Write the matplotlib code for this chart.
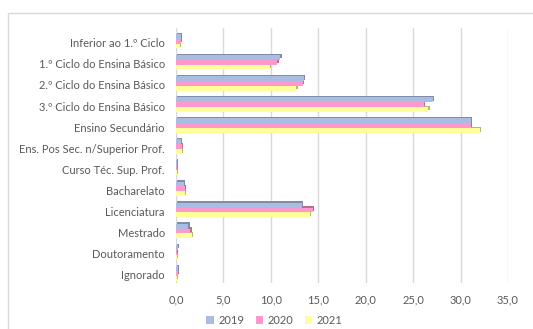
import numpy as np
import matplotlib
matplotlib.use("Agg")
import matplotlib.pyplot as plt
from matplotlib.patches import Rectangle
from matplotlib import transforms

plt.rcParams["font.family"] = ["Lato", "DejaVu Sans"]

# Habilitações (%) por ano
categorias = [
    "Inferior ao 1.º Ciclo",
    "1.º Ciclo do Ensina Básico",
    "2.º Ciclo do Ensina Básico",
    "3.º Ciclo do Ensina Básico",
    "Ensino Secundário",
    "Ens. Pos Sec. n/Superior Prof.",
    "Curso Téc. Sup. Prof.",
    "Bacharelato",
    "Licenciatura",
    "Mestrado",
    "Doutoramento",
    "Ignorado",
]
anos = ["2019", "2020", "2021"]
v2019 = [0.5, 11.0, 13.5, 27.1, 31.1, 0.5, 0.1, 0.8, 13.3, 1.3, 0.2, 0.2]
v2020 = [0.5, 10.7, 13.4, 26.1, 31.1, 0.6, 0.1, 0.9, 14.4, 1.5, 0.1, 0.2]
v2021 = [0.4, 9.9, 12.7, 26.6, 32.0, 0.6, 0.1, 0.9, 14.1, 1.7, 0.1, 0.1]

cores = ["#A9BDE3", "#FF99CC", "#FFFF99"]
sombras = ["#7F8DAD", "#B86E93", "#B8B86E"]

fig = plt.figure(figsize=(5.33, 3.29), dpi=100)
ax = fig.add_axes([176 / 533, 1 - 283 / 329, (508 - 176) / 533, (283 - 28) / 329])

y = np.arange(len(categorias))
h = 0.23
sombra = transforms.offset_copy(ax.transData, fig=fig, x=1.3, y=1.3, units="dots")

for i, (vals, cor, sc) in enumerate(zip([v2019, v2020, v2021], cores, sombras)):
    pos = y + (i - 1) * h - 0.08
    ax.barh(pos, vals, height=h, color=sc, transform=sombra, zorder=2)
    ax.barh(pos, vals, height=h, color=cor, label=anos[i], zorder=3)

ax.set_xlim(0, 35)
ax.set_ylim(11.38, -0.7)
ax.set_xticks(np.arange(0, 36, 5))
ax.set_xticklabels([f"{t:.1f}".replace(".", ",") for t in np.arange(0, 36, 5)])
ax.set_yticks(y)
ax.set_yticklabels(categorias)
ax.tick_params(axis="both", length=0, labelsize=8, colors="#595959")
ax.tick_params(axis="y", pad=8)
ax.tick_params(axis="x", pad=8)
ax.xaxis.grid(True, color="#D9D9D9", linewidth=1)
ax.set_axisbelow(True)
for s in ax.spines.values():
    s.set_visible(False)

leg = fig.legend(loc="center", bbox_to_anchor=(0.515, 1 - 320 / 329), ncol=3,
                 frameon=False, fontsize=8, handlelength=0.7, handleheight=0.7,
                 columnspacing=1.0, handletextpad=0.4)
for t in leg.get_texts():
    t.set_color("#595959")

# moldura do gráfico
fig.add_artist(Rectangle((8 / 533, -0.1), 1.2, 1 - 13 / 329 + 0.1,
                         transform=fig.transFigure, fill=False,
                         edgecolor="#D9D9D9", linewidth=1))

fig.savefig("out.png", dpi=100)
